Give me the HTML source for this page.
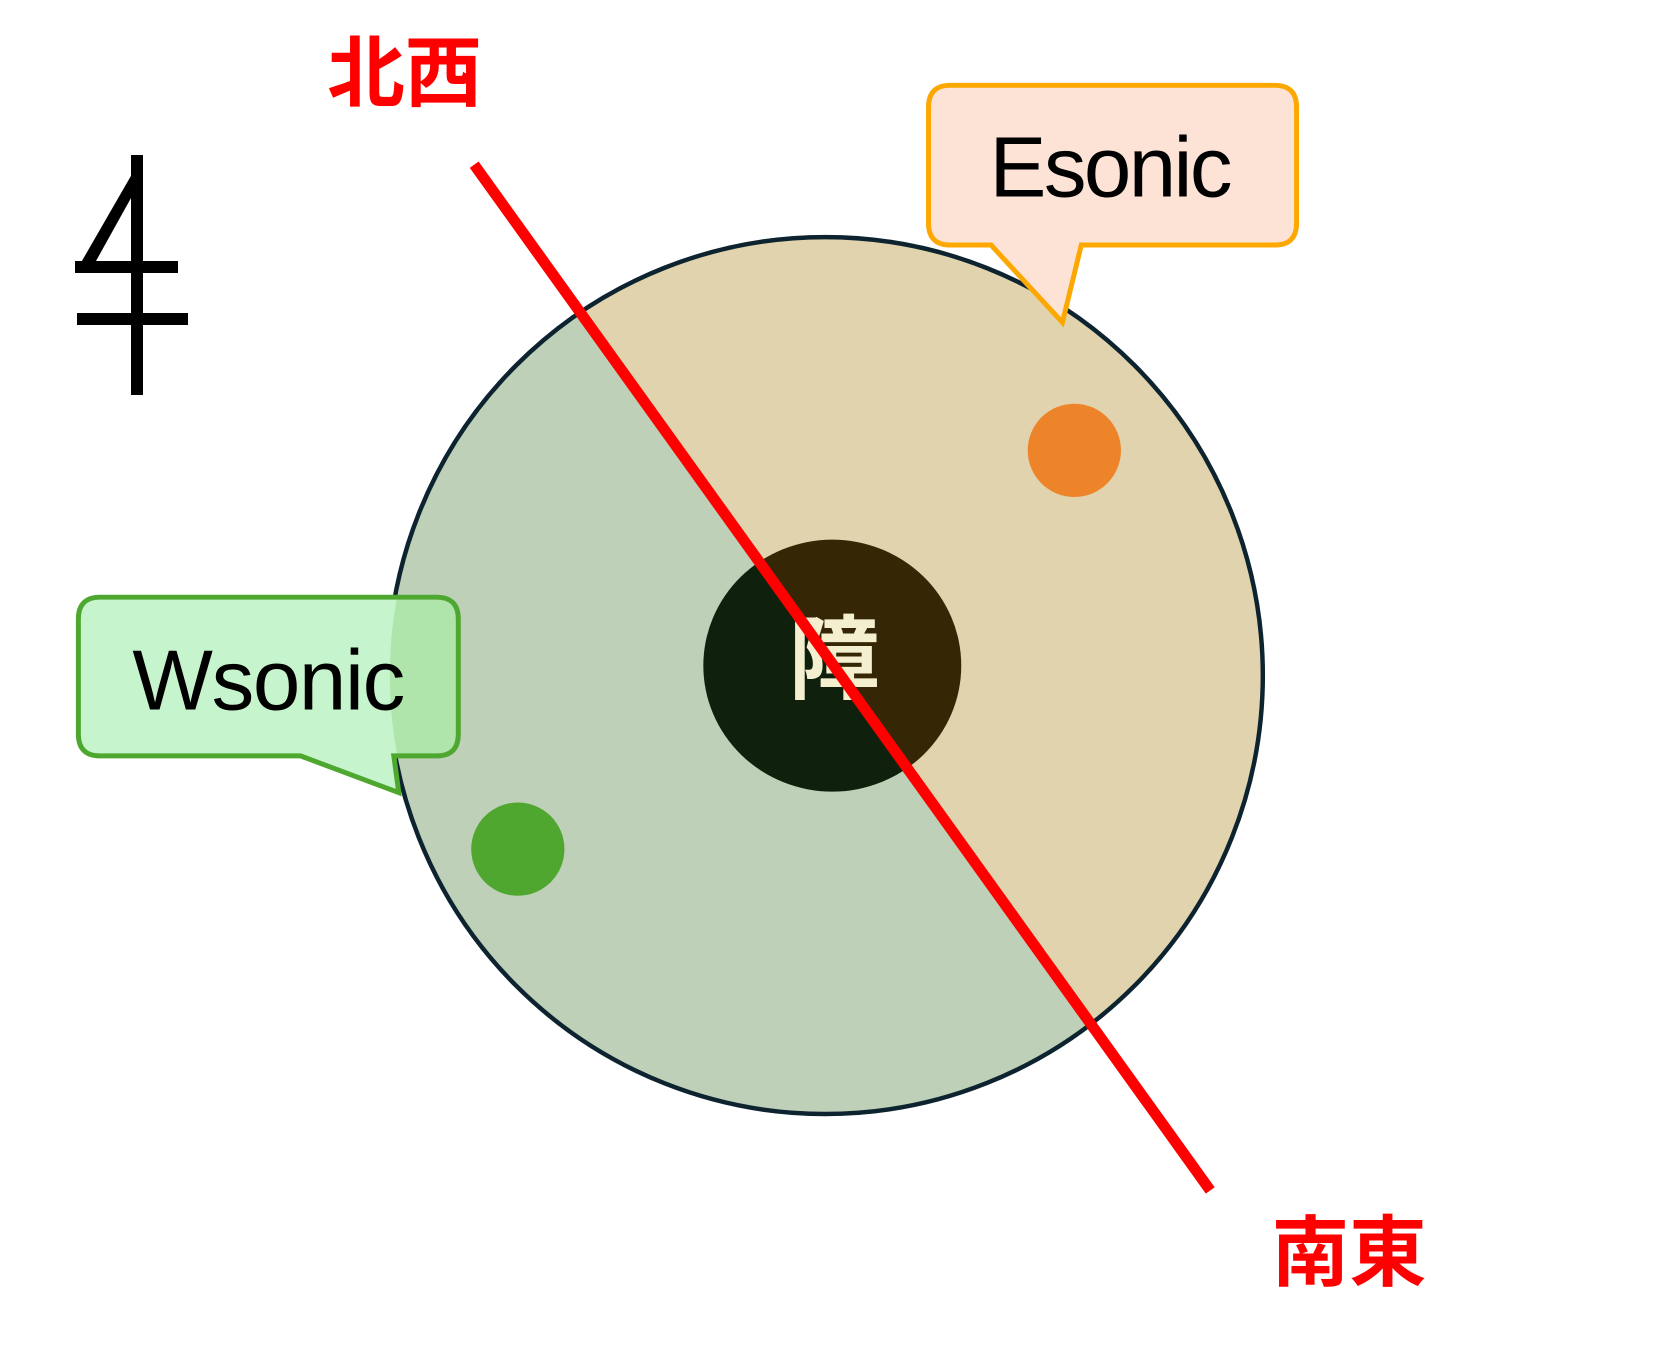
<!DOCTYPE html>
<html><head><meta charset="utf-8"><style>html,body{margin:0;padding:0;background:#fff}svg{display:block}</style></head>
<body>
<svg width="1666" height="1352" viewBox="0 0 1666 1352" xmlns="http://www.w3.org/2000/svg">
<defs>
<clipPath id="L"><polygon points="478,166 1220,1200 -500,1800 -500,-500"/></clipPath>
<clipPath id="R"><polygon points="478,166 1220,1200 2500,1800 2500,-500"/></clipPath>
<clipPath id="WB"><path d="M101,602 H440 Q462,602 462,624 V740 Q462,762 440,762 H397 L402,799 L303,762 H101 Q79,762 79,740 V624 Q79,602 101,602 Z"/></clipPath>
</defs>
<!-- north symbol -->
<path d="M143,155 L75,273 L143,273 Z M131,198 L96,261 L131,261 Z" fill="#000" fill-rule="evenodd"/>
<rect x="131" y="155" width="12" height="240" fill="#000"/>
<rect x="75" y="261" width="103" height="12" fill="#000"/>
<rect x="77" y="313" width="111" height="12" fill="#000"/>
<g transform="scale(0.992)">
<!-- big circle -->
<g clip-path="url(#L)"><ellipse cx="832" cy="681" rx="441" ry="442" fill="#bed0b7"/><ellipse cx="839" cy="671" rx="130" ry="127" fill="#0f200c"/></g>
<g clip-path="url(#R)"><ellipse cx="832" cy="681" rx="441" ry="442" fill="#e1d3ad"/><ellipse cx="839" cy="671" rx="130" ry="127" fill="#352605"/></g>
<ellipse cx="832" cy="681" rx="441" ry="442" fill="none" stroke="#0d2430" stroke-width="4.5"/>
<text x="841" y="666" font-family="'Liberation Sans','Noto Sans CJK JP',sans-serif" font-weight="bold" font-size="92" fill="#f3efcf" text-anchor="middle" dominant-baseline="central">障</text>
<circle cx="1083" cy="454" r="47" fill="#ee842a"/>
<circle cx="522" cy="856" r="47" fill="#4fa72f"/>
<!-- red line -->
<line x1="478" y1="166" x2="1220" y2="1200" stroke="#ff0000" stroke-width="11"/>
<!-- Esonic callout -->
<path d="M958,86 H1285 Q1307,86 1307,108 V225 Q1307,247 1285,247 H1090 L1071,325 L999,247 H958 Q936,247 936,225 V108 Q936,86 958,86 Z" fill="#fce3d6" stroke="#fca800" stroke-width="5"/>
<text x="1120" y="198" font-family="'Liberation Sans',sans-serif" font-size="86" fill="#000" text-anchor="middle" textLength="245">Esonic</text>
<!-- Wsonic callout -->
<path d="M101,602 H440 Q462,602 462,624 V740 Q462,762 440,762 H397 L402,799 L303,762 H101 Q79,762 79,740 V624 Q79,602 101,602 Z" fill="#c6f4cd"/>
<g clip-path="url(#WB)"><ellipse cx="832" cy="681" rx="439" ry="440" fill="#afe4aa"/></g>
<path d="M101,602 H440 Q462,602 462,624 V740 Q462,762 440,762 H397 L402,799 L303,762 H101 Q79,762 79,740 V624 Q79,602 101,602 Z" fill="none" stroke="#4ea72f" stroke-width="5"/>
<text x="271" y="715" font-family="'Liberation Sans',sans-serif" font-size="86" fill="#000" text-anchor="middle" textLength="275">Wsonic</text>
<!-- labels -->
<text x="330" y="101" font-family="'Liberation Sans','Noto Sans CJK JP',sans-serif" font-weight="bold" font-size="78" fill="#ff0000">北西</text>
<text x="1282" y="1290" font-family="'Liberation Sans','Noto Sans CJK JP',sans-serif" font-weight="bold" font-size="78" fill="#ff0000">南東</text>
</g>
</svg>
</body></html>
